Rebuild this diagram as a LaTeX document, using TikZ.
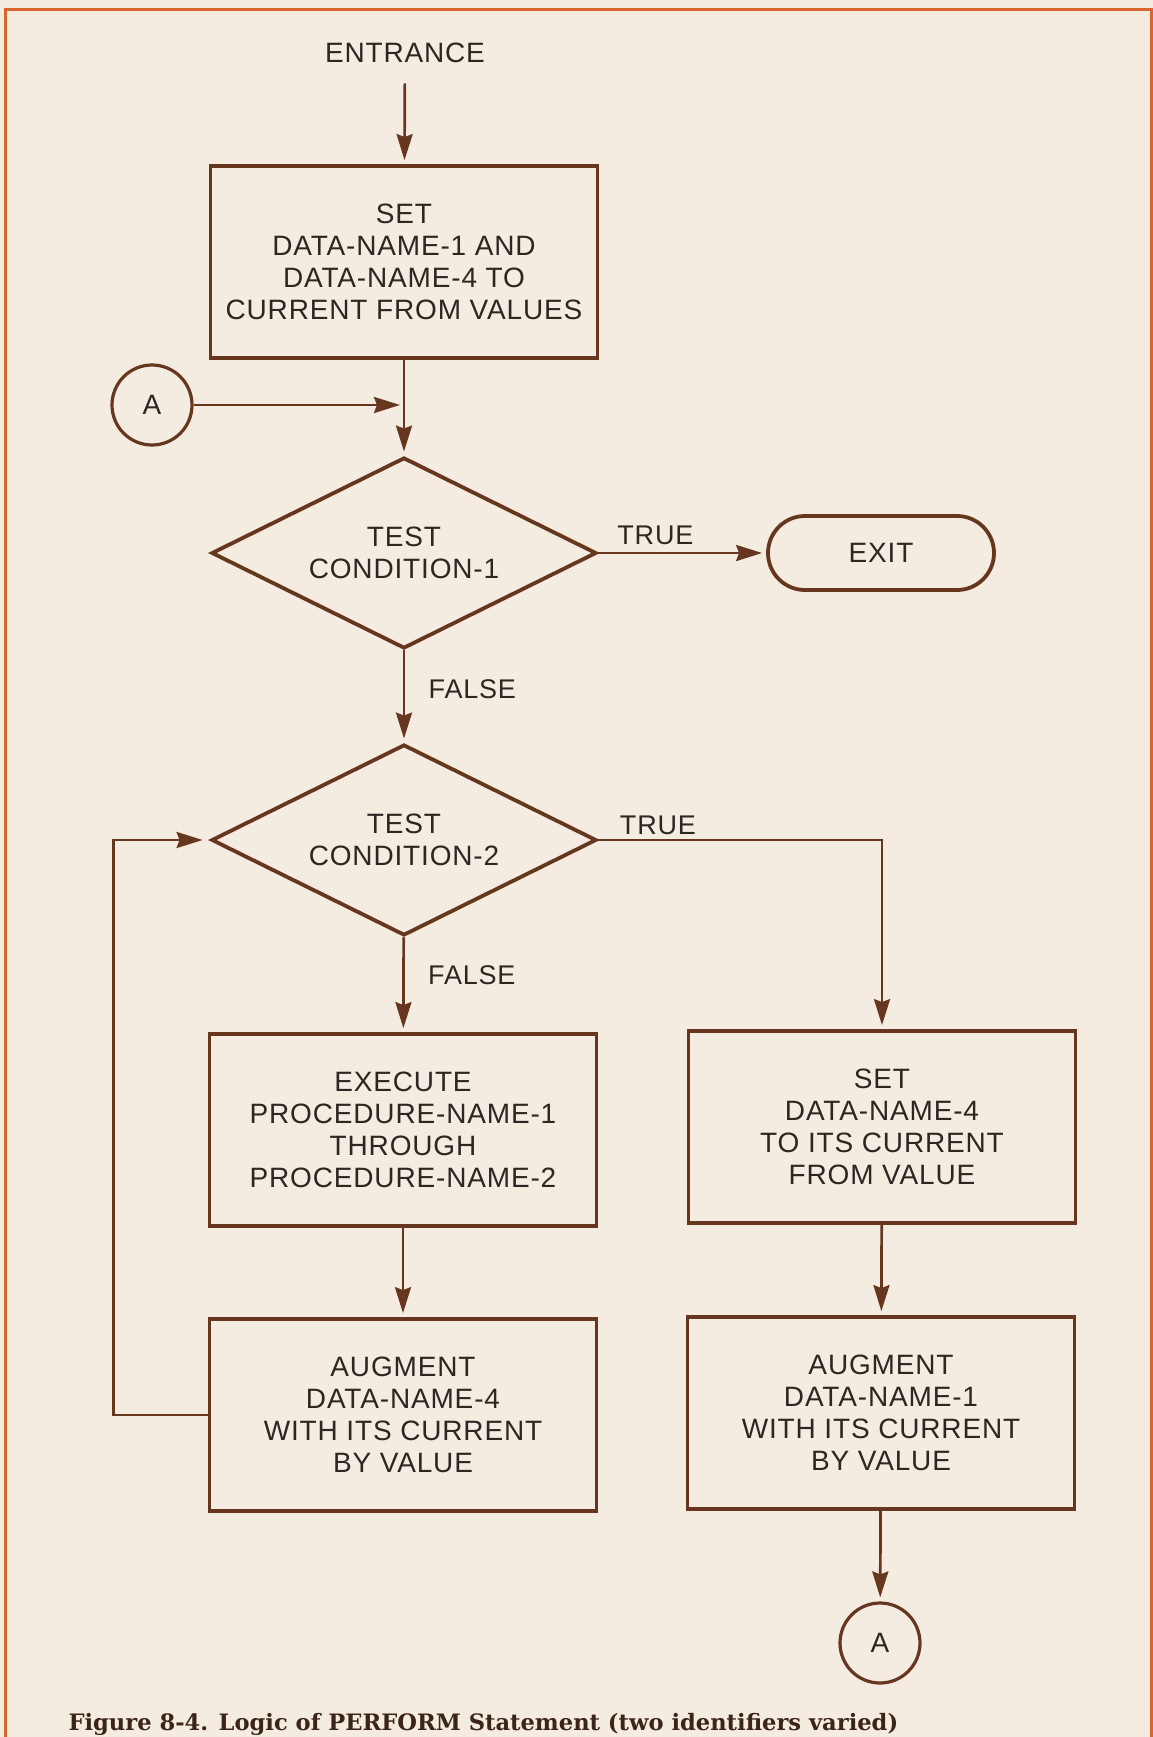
\documentclass[tikz,border=0pt]{standalone}
\usepackage{fontspec}
\setmainfont{Liberation Sans}[LetterSpace=3]
\newfontfamily\capfont{DejaVu Serif}
\usetikzlibrary{arrows.meta,shapes.geometric}

\definecolor{paper}{HTML}{F4ECE0}
\definecolor{ink}{HTML}{66361F}
\definecolor{txt}{HTML}{2E2622}
\definecolor{captxt}{HTML}{3B2418}
\definecolor{framecol}{HTML}{D8662E}

\begin{document}
\begin{tikzpicture}[x=1pt,y=-1pt,
  every node/.style={text=txt, font=\fontsize{28}{32}\selectfont},
  procbox/.style={draw=ink, line width=3.8pt, rectangle, minimum width=387pt,
    minimum height=192pt, align=center, inner sep=0pt},
  decision/.style={draw=ink, line width=3.8pt, diamond, aspect=2,
    minimum width=385pt, minimum height=191pt, align=center, inner sep=0pt},
  connector/.style={draw=ink, line width=3.2pt, circle, minimum size=80pt, inner sep=0pt},
  terminal/.style={draw=ink, line width=3.8pt, rectangle, rounded corners=37pt,
    minimum width=226pt, minimum height=74pt},
  flow/.style={draw=ink, line width=2.7pt,
    -{Stealth[length=26pt,width=16pt,inset=3pt]}, shorten >=4pt},
  tag/.style={font=\fontsize{27}{30}\selectfont}
]
% page and frame
\fill[paper] (0,0) rectangle (1153,1737);
\useasboundingbox (0,0) rectangle (1153,1737);
\draw[framecol, line width=3pt] (5,1737) -- (5,10) -- (1151,10) -- (1151,1737);

% nodes
\node (entr) at (405,53) {ENTRANCE};
\node[procbox] (set1) at (404,262) {SET\\DATA-NAME-1 AND\\DATA-NAME-4 TO\\CURRENT FROM VALUES};
\node[connector] (ain) at (152,405) {A};
\node[decision] (t1) at (404,553) {TEST\\CONDITION-1};
\node[terminal] (exit) at (881,553) {EXIT};
\node[decision] (t2) at (404,840) {TEST\\CONDITION-2};
\node[procbox] (exec) at (403,1130) {EXECUTE\\PROCEDURE-NAME-1\\THROUGH\\PROCEDURE-NAME-2};
\node[procbox] (setb) at (882,1127) {SET\\DATA-NAME-4\\TO ITS CURRENT\\FROM VALUE};
\node[procbox] (aug1) at (403,1415) {AUGMENT\\DATA-NAME-4\\WITH ITS CURRENT\\BY VALUE};
\node[procbox] (aug2) at (881,1413) {AUGMENT\\DATA-NAME-1\\WITH ITS CURRENT\\BY VALUE};
\node[connector] (aout) at (880,1643) {A};

% connectors
\draw[flow, shorten <=17pt] (entr) -- (set1);
\draw[flow] (set1) -- (t1);
\draw[flow] (ain) -- (set1.south |- ain.east);
\draw[flow] (t1) -- node[tag, above=4pt, pos=0.34] {TRUE} (exit);
\draw[flow] (t1) -- node[tag, right=20pt, pos=0.42] {FALSE} (t2);
\draw[flow] (t2.east) -| node[tag, above=1pt, pos=0.105] {TRUE} (setb.north);
\draw[flow] (t2) -- node[tag, right=20pt, pos=0.4] {FALSE} (exec);
\draw[flow] (exec) -- (aug1);
\draw[flow] (setb) -- (aug2);
\draw[flow] (aug2) -- (aout);
\draw[flow, shorten >=7pt] (aug1.west) -- ++(-94,0) |- (t2.west);

% caption
\node[anchor=base west, text=captxt, font=\capfont\bfseries\fontsize{22.6}{26}\selectfont]
  (cap) at (65,1730) {Figure 8-4. Logic of PERFORM Statement (two identifiers varied)};
\end{tikzpicture}
\end{document}
